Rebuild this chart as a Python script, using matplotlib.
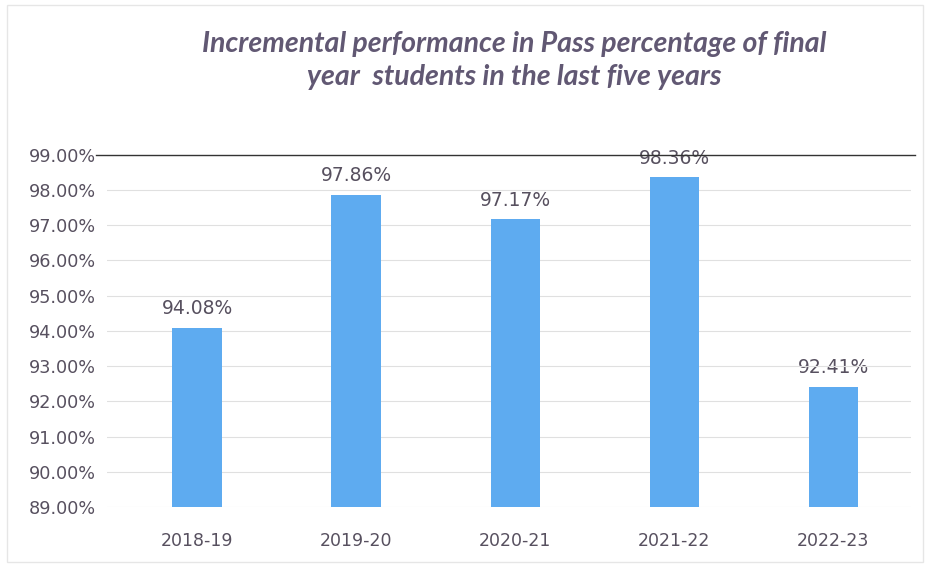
import numpy as np
import matplotlib.pyplot as plt
from matplotlib.ticker import FuncFormatter

years = ["2018-19", "2019-20", "2020-21", "2021-22", "2022-23"]
pass_pct = [94.08, 97.86, 97.17, 98.36, 92.41]
yticks = [89, 90, 91, 92, 93, 94, 95, 96, 97, 98, 99]

title = "Incremental performance in Pass percentage of final\nyear  students in the last five years"

txt_col = "#57505f"
bar_col = "#5eabf0"

plt.rcParams['font.family'] = ['DejaVu Sans']

fig = plt.figure(figsize=(9.3, 5.69), dpi=100)
ax = fig.add_axes([0.115, 0.109, 0.865, 0.619])

x = np.arange(len(years))
ax.bar(x, [v - 89 for v in pass_pct], bottom=89, width=0.31, color=bar_col, zorder=2)

for xi, v in zip(x, pass_pct):
    ax.annotate(f"{v:.2f}%", (xi, v), xytext=(0, 7), textcoords="offset points",
                ha="center", va="bottom", fontsize=13.5, color=txt_col, zorder=1)

ax.set_ylim(89, 99)
ax.set_xlim(-0.566, 4.49)
ax.set_yticks(yticks)
ax.yaxis.set_major_formatter(FuncFormatter(lambda v, p: f"{v:.2f}%"))
ax.set_xticks(x)
ax.set_xticklabels(years)
ax.tick_params(axis="both", length=0, labelsize=12.7, colors=txt_col)
ax.tick_params(axis="y", pad=8)
ax.tick_params(axis="x", pad=18, labelsize=12.5)

ax.grid(axis="y", color="#e0e0e0", linewidth=0.8, zorder=0)
for s in ax.spines.values():
    s.set_visible(False)

# dark top line at 99%
ax.axhline(99, xmin=-0.013, xmax=1.005, color="#333333", linewidth=1.0,
           clip_on=False, zorder=5)

fig.text(0.553, 0.894, title, ha="center", va="center", fontsize=20.5,
         fontweight="bold", style="italic", color="#615873", linespacing=1.35,
         family=["Lato", "DejaVu Sans"])

fig.patches.append(plt.Rectangle((0.008, 0.012), 0.985, 0.98, transform=fig.transFigure,
                                 fill=False, edgecolor="#e6e6e6", linewidth=1))

fig.savefig("out.png", dpi=100)
